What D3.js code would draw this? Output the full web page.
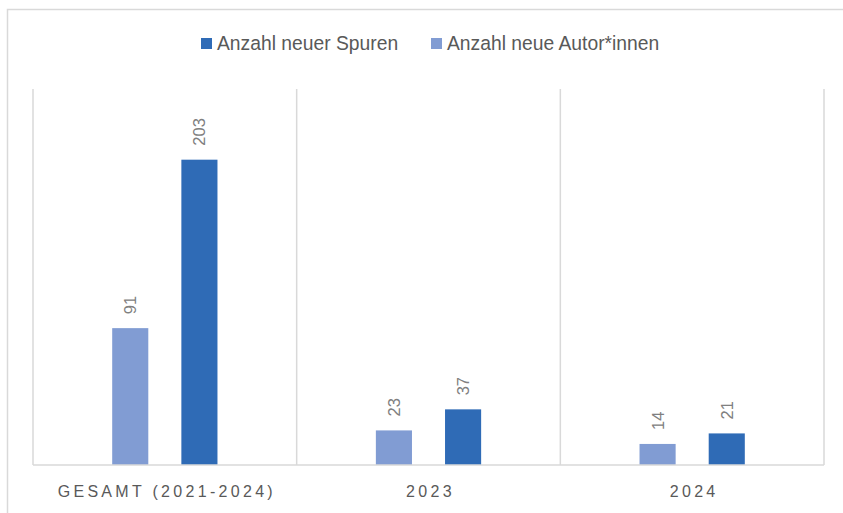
<!DOCTYPE html>
<html>
<head>
<meta charset="utf-8">
<script src="https://cdn.jsdelivr.net/npm/d3@7"></script>
<style>
body { margin:0; background:#fff; }
svg { font-family: "Liberation Sans", "Open Sans", sans-serif; }
</style>
</head>
<body>
<svg id="chart" width="843" height="513"></svg>
<script>
// data
var categories = ["GESAMT (2021-2024)", "2023", "2024"];
var seriesNames = ["Anzahl neue Autor*innen", "Anzahl neuer Spuren"];
var autorinnen = [91, 23, 14];
var spuren = [203, 37, 21];
var legendOrder = ["Anzahl neuer Spuren", "Anzahl neue Autor*innen"];
var colors = {"Anzahl neuer Spuren": "#2f6bb6", "Anzahl neue Autor*innen": "#819cd3"};

var svg = d3.select("#chart");
var plotLeft = 33, plotRight = 824, plotTop = 89, plotBottom = 465;

// outer frame
svg.append("rect")
	.attr("x", 7.5).attr("y", 9.5)
	.attr("width", 850).attr("height", 520)
	.attr("fill", "#fff")
	.attr("stroke", "#d9d9d9")
	.attr("stroke-width", 1.5);

var x = d3.scaleBand().domain(categories).range([plotLeft, plotRight]);
var inner = d3.scaleBand().domain(seriesNames).range([0, x.bandwidth()]).paddingInner(0.478).paddingOuter(1.145);
var y = d3.scaleLinear().domain([0, 250]).range([plotBottom, plotTop]);

// category separators
var bounds = categories.map(function(c){ return x(c); }).concat([plotRight]);
svg.selectAll("line.sep").data(bounds).enter().append("line")
	.attr("class", "sep")
	.attr("x1", function(d){ return d; }).attr("x2", function(d){ return d; })
	.attr("y1", plotTop).attr("y2", plotBottom)
	.attr("stroke", "#d9d9d9").attr("stroke-width", 1.5);

var rows = [];
categories.forEach(function(c, i){
	rows.push({cat: c, s: "Anzahl neue Autor*innen", v: autorinnen[i]});
	rows.push({cat: c, s: "Anzahl neuer Spuren", v: spuren[i]});
});

svg.selectAll("rect.bar").data(rows).enter().append("rect")
	.attr("class", "bar")
	.attr("x", function(d){ return x(d.cat) + inner(d.s); })
	.attr("y", function(d){ return y(d.v); })
	.attr("width", inner.bandwidth())
	.attr("height", function(d){ return plotBottom - y(d.v); })
	.attr("fill", function(d){ return colors[d.s]; });

svg.selectAll("text.val").data(rows).enter().append("text")
	.attr("class", "val")
	.attr("transform", function(d){
		var cx = x(d.cat) + inner(d.s) + inner.bandwidth() / 2 + 6;
		return "translate(" + cx + "," + (y(d.v) - 14) + ") rotate(-90)";
	})
	.attr("font-size", 16.5)
	.attr("fill", "#808080")
	.text(function(d){ return d.v; });

// x axis line
svg.append("line")
	.attr("x1", plotLeft).attr("x2", plotRight)
	.attr("y1", plotBottom).attr("y2", plotBottom)
	.attr("stroke", "#d9d9d9").attr("stroke-width", 1.5);

svg.selectAll("text.cat").data(categories).enter().append("text")
	.attr("class", "cat")
	.attr("x", function(d){ return x(d) + x.bandwidth() / 2 + 2; })
	.attr("y", 497)
	.attr("text-anchor", "middle")
	.attr("font-size", 16)
	.attr("letter-spacing", 3.3)
	.attr("fill", "#595959")
	.text(function(d){ return d; });

// legend
var legX = [201, 431];
legendOrder.forEach(function(name, i){
	svg.append("rect")
		.attr("x", legX[i]).attr("y", 38)
		.attr("width", 11).attr("height", 11)
		.attr("fill", colors[name]);
	svg.append("text")
		.attr("x", legX[i] + 16).attr("y", 50)
		.attr("font-size", 19.3)
		.attr("fill", "#595959")
		.text(name);
});
</script>
</body>
</html>
